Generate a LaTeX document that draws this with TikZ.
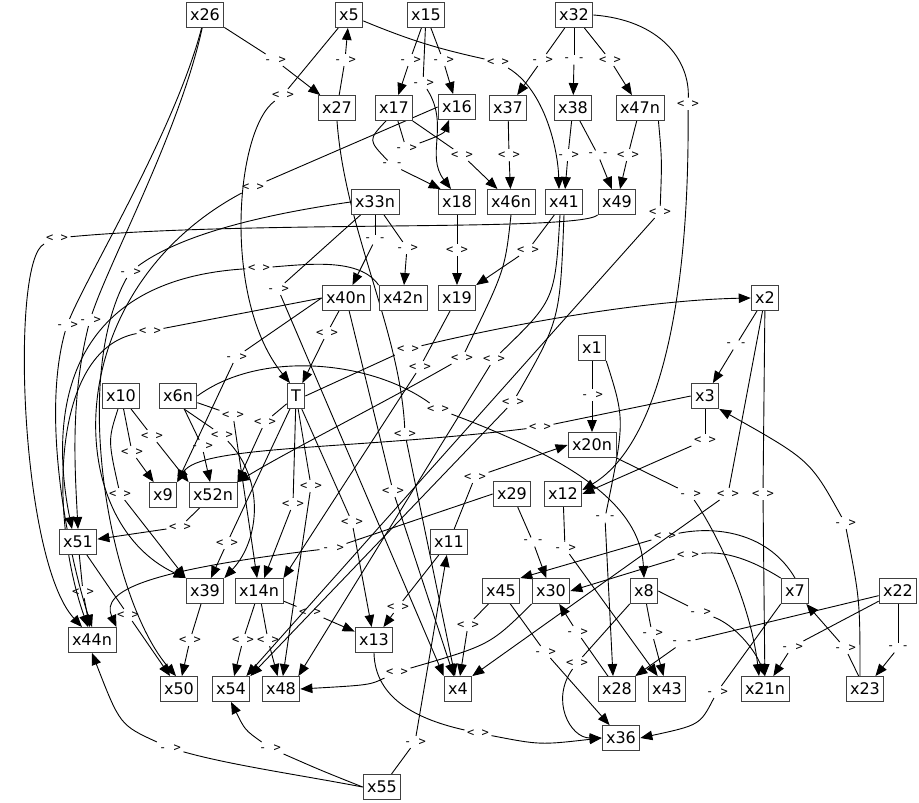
\documentclass[tikz,border=0pt]{standalone}
\usepackage{fontspec}
\newfontfamily\nf{DejaVu Sans}
\newfontfamily\lf{DejaVu Sans Mono}
\usetikzlibrary{arrows.meta,backgrounds}
\tikzset{
  nd/.style={draw=black!75, line width=0.9pt, font={\nf\fontsize{16}{18}\selectfont}, inner xsep=4pt, inner ysep=0pt, minimum height=25pt, fill=white},
  lb/.style={font={\lf\fontsize{12}{13}\selectfont}, inner sep=2.5pt, text=black},
  e/.style={draw, line width=0.9pt},
  ea/.style={e, -{Triangle[length=12pt,width=9.5pt]}},
}
\newcommand\nd[3]{\node[nd] (#1) at (#2) {#3};}
\newcommand\lab[3]{\node[lb] (#1) at (#2) {#3};}
\newcommand\sedge[3]{\draw[e] (#1) -- (#2); \draw[ea] (#2) -- (#3);}
\begin{document}
\begin{tikzpicture}[x=1pt,y=-1pt]
\useasboundingbox (0,0) rectangle (919,803);
% nodes
\nd{x26}{205,15}{x26}
\nd{x5}{349,15}{x5}
\nd{x15}{426,15}{x15}
\nd{x32}{574,15}{x32}
\nd{x27}{337,108}{x27}
\nd{x17}{394,108}{x17}
\nd{x16}{457,107}{x16}
\nd{x37}{508,108}{x37}
\nd{x38}{573,108}{x38}
\nd{x47n}{640,108}{x47n}
\nd{x33n}{375,202}{x33n}
\nd{x18}{457,202}{x18}
\nd{x46n}{511,202}{x46n}
\nd{x41}{564,202}{x41}
\nd{x49}{617,202}{x49}
\nd{x40n}{346,298}{x40n}
\nd{x42n}{403,298}{x42n}
\nd{x19}{457,298}{x19}
\nd{x2}{765,298}{x2}
\nd{x1}{592,348}{x1}
\nd{x10}{121,396}{x10}
\nd{x6n}{178,396}{x6n}
\nd{T}{296,396}{T}
\nd{x3}{705,396}{x3}
\nd{x20n}{592,445}{x20n}
\nd{x9}{163,495}{x9}
\nd{x52n}{213,495}{x52n}
\nd{x29}{512,494}{x29}
\nd{x12}{563,494}{x12}
\nd{x51}{78,542}{x51}
\nd{x11}{449,542}{x11}
\nd{x39}{205,591}{x39}
\nd{x14n}{259,591}{x14n}
\nd{x45}{501,591}{x45}
\nd{x30}{551,591}{x30}
\nd{x8}{644,591}{x8}
\nd{x7}{795,591}{x7}
\nd{x22}{898,591}{x22}
\nd{x44n}{92,640}{x44n}
\nd{x13}{374,640}{x13}
\nd{x50}{179,689}{x50}
\nd{x54}{231,689}{x54}
\nd{x48}{281,689}{x48}
\nd{x4}{458,689}{x4}
\nd{x28}{617,689}{x28}
\nd{x43}{667,689}{x43}
\nd{x21n}{765,689}{x21n}
\nd{x23}{865,689}{x23}
\nd{x36}{621,738}{x36}
\nd{x55}{382,787}{x55}
% labels
\lab{l1}{275,60}{- >}
\lab{l2}{345,60}{- >}
\lab{l3}{283,95}{< >}
\lab{l4}{410,60}{- >}
\lab{l5}{443,60}{- >}
\lab{l6}{423,83}{- >}
\lab{l7}{498,62}{< >}
\lab{l8}{542,60}{- >}
\lab{l9}{574,60}{- -}
\lab{l10}{610,60}{< >}
\lab{l11}{688,104}{< >}
\lab{l12}{406,148}{- >}
\lab{l13}{392,165}{- -}
\lab{l14}{462,155}{< >}
\lab{l15}{509,155}{< >}
\lab{l16}{568,155}{- >}
\lab{l17}{598,155}{- -}
\lab{l18}{628,155}{< >}
\lab{l19}{660,212}{< >}
\lab{l20}{253,187}{< >}
\lab{l21}{57,238}{< >}
\lab{l22}{130,272}{- >}
\lab{l23}{375,240}{- -}
\lab{l24}{407,248}{- >}
\lab{l25}{278,289}{- >}
\lab{l26}{259,268}{< >}
\lab{l27}{457,250}{< >}
\lab{l28}{528,250}{< >}
\lab{l29}{90,320}{- >}
\lab{l30}{67,325}{- >}
\lab{l31}{150,331}{< >}
\lab{l32}{236,357}{- >}
\lab{l33}{327,333}{< >}
\lab{l34}{393,491}{< >}
\lab{l35}{405,434}{< >}
\lab{l36}{420,367}{< >}
\lab{l37}{462,358}{< >}
\lab{l38}{494,359}{< >}
\lab{l39}{513,402}{< >}
\lab{l40}{408,349}{< >}
\lab{l41}{592,395}{- >}
\lab{l42}{605,518}{- -}
\lab{l43}{736,345}{- -}
\lab{l44}{728,494}{< >}
\lab{l45}{763,494}{< >}
\lab{l46}{540,427}{< >}
\lab{l47}{705,440}{< >}
\lab{l48}{845,523}{- >}
\lab{l49}{690,494}{- >}
\lab{l50}{438,409}{< >}
\lab{l51}{233,415}{< >}
\lab{l52}{222,435}{< >}
\lab{l53}{202,446}{- >}
\lab{l54}{132,452}{< >}
\lab{l55}{152,436}{< >}
\lab{l56}{120,494}{< >}
\lab{l57}{265,422}{< >}
\lab{l58}{227,543}{< >}
\lab{l59}{293,504}{< >}
\lab{l60}{311,486}{< >}
\lab{l61}{352,522}{< >}
\lab{l62}{180,527}{< >}
\lab{l63}{333,548}{- >}
\lab{l64}{533,542}{- -}
\lab{l65}{565,548}{- >}
\lab{l66}{475,477}{< >}
\lab{l67}{398,607}{< >}
\lab{l68}{415,742}{- >}
\lab{l69}{468,625}{< >}
\lab{l70}{545,652}{- >}
\lab{l71}{397,672}{< >}
\lab{l72}{577,632}{- >}
\lab{l73}{577,663}{< >}
\lab{l74}{700,612}{- >}
\lab{l75}{652,633}{- >}
\lab{l76}{665,536}{< >}
\lab{l77}{688,555}{< >}
\lab{l78}{717,692}{- >}
\lab{l79}{682,643}{- -}
\lab{l80}{792,647}{- >}
\lab{l81}{898,648}{- -}
\lab{l82}{845,648}{- >}
\lab{l83}{310,612}{< >}
\lab{l84}{243,640}{< >}
\lab{l85}{268,640}{< >}
\lab{l86}{190,640}{< >}
\lab{l87}{83,592}{< >}
\lab{l88}{128,615}{< >}
\lab{l89}{170,748}{- >}
\lab{l90}{270,748}{- >}
\lab{l91}{478,733}{< >}
\begin{pgfonlayer}{background}
\fill[white] (0,0) rectangle (919,803);
\sedge{x26}{l1}{x27}
\sedge{x27}{l2}{x5}
\draw[e] (x5) -- (l3); \draw[ea] (l3) .. controls (235,130) and (222,300) .. ([xshift=-6pt]T.north);
\sedge{x15}{l4}{x17}
\sedge{x15}{l5}{x16}
\draw[e] (x15) -- (l6); \draw[ea] (l6) .. controls (450,125) and (425,155) .. ([xshift=-6pt]x18.north);
\draw[e] (x5) to[bend right=5] (l7); \draw[ea] (l7) .. controls (545,90) and (558,150) .. ([xshift=-5pt]x41.north);
\sedge{x32}{l8}{x37}
\sedge{x32}{l9}{x38}
\sedge{x32}{l10}{x47n}
\draw[e] (x32.east) .. controls (660,20) and (690,60) .. (l11); \draw[ea] (l11) .. controls (690,330) and (650,450) .. ([yshift=4pt]x12.east);
\draw[e] (x17) -- (l12); \draw[ea] (l12) to[out=20,in=-110] ([xshift=-8pt]x16.south);
\draw[e] ([xshift=-8pt]x17.south) .. controls (368,140) .. (l13); \draw[ea] (l13) -- ([xshift=3pt]x18.north west);
\sedge{x17}{l14}{x46n}
\sedge{x37}{l15}{x46n}
\sedge{x38}{l16}{x41}
\sedge{x38}{l17}{x49}
\sedge{x47n}{l18}{x49}
\draw[e] ([xshift=-6pt]x47n.south east) .. controls (662,160) .. (l19); \draw[ea] (l19) -- ([xshift=-4pt]x54.north east);
\draw[e] (x16.west) -- (l20); \draw[ea] (l20) .. controls (60,290) and (60,520) .. (x39.north west);
\draw[e] (x49.south west) .. controls (580,232) and (250,220) .. (l21); \draw[ea] (l21) .. controls (10,260) and (20,560) .. ([xshift=-10pt]x44n.north);
\draw[e] (x33n.west) .. controls (260,215) and (180,235) .. (l22); \draw[ea] (l22) .. controls (70,380) and (110,600) .. ([xshift=-3pt]x50.north);
\sedge{x33n}{l23}{x40n}
\sedge{x33n}{l24}{x42n}
\sedge{x33n}{l25}{x4.north west}
\draw[e] (x42n.north west) .. controls (360,258) and (310,264) .. (l26); \draw[ea] (l26) .. controls (60,280) and (50,420) .. ([xshift=-6pt]x51.north);
\sedge{x18}{l27}{x19}
\sedge{x41}{l28}{x19}
\draw[e] (x26) .. controls (180,130) and (110,260) .. (l29); \draw[ea] (l29) .. controls (70,400) and (75,470) .. (x51.north);
\draw[e] (x26) .. controls (175,130) and (90,270) .. (l30); \draw[ea] (l30) .. controls (40,420) and (70,560) .. (x44n.north);
\draw[e] (x40n.west) -- (l31); \draw[ea] (l31) .. controls (50,350) and (50,520) .. ([xshift=-4pt]x44n.north);
\sedge{x40n.west}{l32}{x9.north east}
\sedge{x40n}{l33}{T}
\sedge{x40n}{l34}{x4}
\draw[e] (x27.south) .. controls (345,230) and (400,330) .. (l35); \draw[ea] (l35) -- ([xshift=-3pt]x4.north);
\sedge{x19}{l36}{x14n.north east}
\draw[e] (x46n.south) .. controls (505,270) .. (l37); \draw[ea] (l37) .. controls (380,405) and (290,450) .. (x52n.north east);
\draw[e] ([xshift=-4pt]x41.south) .. controls (555,300) .. (l38); \draw[ea] (l38) -- ([xshift=-2pt]x48.north east);
\draw[e] (x41.south) .. controls (560,320) .. (l39); \draw[ea] (l39) -- (x54.north east);
\draw[e] (T.east) -- (l40); \draw[ea] (l40) .. controls (520,322) and (650,300) .. (x2.west);
\sedge{x1}{l41}{x20n}
\draw[e] (x1.south east) .. controls (625,420) .. (l42); \draw[ea] (l42) -- ([xshift=-4pt]x28.north);
\sedge{x2}{l43}{x3}
\sedge{x2}{l44}{x4.north east}
\sedge{x2}{l45}{x21n}
\draw[e] (x3.west) -- (l46); \draw[ea] (l46) .. controls (350,450) and (200,445) .. (x9.north east);
\sedge{x3}{l47}{x12.east}
\draw[e] ([xshift=-5pt]x23.north) .. controls (860,600) .. (l48); \draw[ea] (l48) .. controls (810,460) .. (x3.south east);
\draw[e] (x20n.south east) -- (l49); \draw[ea] (l49) .. controls (715,530) and (750,600) .. ([xshift=-6pt]x21n.north);
\draw[e] (x6n.east) .. controls (260,350) and (370,360) .. (l50); \draw[ea] (l50) .. controls (560,455) and (640,500) .. (x8.north);
\sedge{x6n}{l51}{x14n}
\draw[e] ([xshift=6pt]x6n.south) -- (l52); \draw[ea] (l52) .. controls (265,480) and (260,540) .. (x39.north east);
\sedge{x6n}{l53}{x52n}
\sedge{x10}{l54}{x9}
\sedge{x10}{l55}{x52n.north west}
\draw[e] ([xshift=-3pt]x10.south) .. controls (108,440) .. (l56); \draw[ea] (l56) -- (x39.north west);
\sedge{T}{l57}{x52n.north east}
\sedge{T}{l58}{x39}
\sedge{T}{l59}{x14n}
\sedge{T}{l60}{x48}
\sedge{T}{l61}{x13}
\sedge{x52n}{l62}{x51}
\draw[e] (x29.west) -- (l63); \draw[ea] (l63) .. controls (150,570) and (100,590) .. (x44n.north east);
\sedge{x29}{l64}{x30}
\sedge{x12}{l65}{x43}
\sedge{x11}{l66}{x20n.west}
\sedge{x11}{l67}{x13}
\sedge{x55}{l68}{x11}
\sedge{x45}{l69}{x4}
\sedge{x45}{l70}{x36}
\draw[e] (x30.south west) .. controls (490,645) .. (l71); \draw[ea] (l71) .. controls (370,685) .. (x48.east);
\sedge{x28}{l72}{x30}
\draw[e] (x8.south west) -- (l73); \draw[ea] (l73) .. controls (550,700) and (570,738) .. (x36.west);
\draw[e] (x8.east) -- (l74); \draw[ea] (l74) .. controls (735,625) and (755,650) .. (x21n.north);
\sedge{x8}{l75}{x43}
\draw[e] (x7.north) .. controls (770,535) and (720,525) .. (l76); \draw[ea] (l76) -- (x45.north east);
\draw[e] (x7.north west) .. controls (760,565) and (730,550) .. (l77); \draw[ea] (l77) -- (x30.east);
\draw[e] (x7.south west) -- (l78); \draw[ea] (l78) .. controls (700,725) .. (x36.east);
\sedge{x22}{l79}{x28}
\sedge{x22}{l80}{x21n}
\sedge{x22}{l81}{x23}
\sedge{x23}{l82}{x7}
\sedge{x14n}{l83}{x13}
\sedge{x14n}{l84}{x54}
\sedge{x14n}{l85}{x48}
\sedge{x39}{l86}{x50}
\sedge{x51}{l87}{x44n}
\sedge{x51}{l88}{x50}
\draw[e] (x55.west) .. controls (300,775) and (230,765) .. (l89); \draw[ea] (l89) .. controls (120,725) .. (x44n.south);
\draw[e] (x55.west) .. controls (320,770) .. (l90); \draw[ea] (l90) .. controls (245,730) .. (x54.south);
\draw[e] (x13.south) .. controls (375,700) and (420,720) .. (l91); \draw[ea] (l91) .. controls (540,745) .. (x36.west);
\end{pgfonlayer}
\end{tikzpicture}
\end{document}
